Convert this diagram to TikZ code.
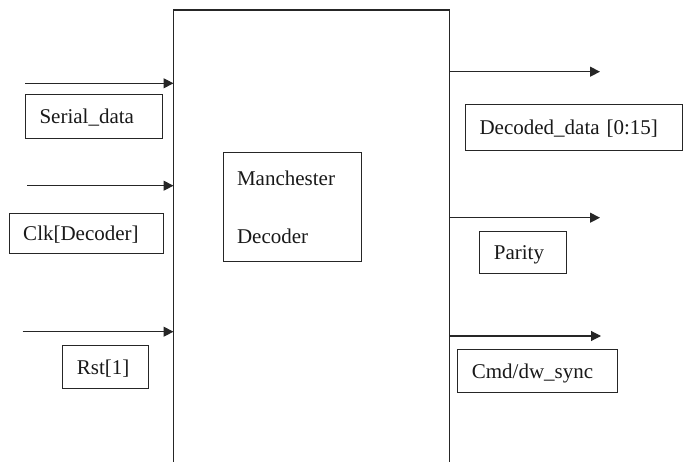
\documentclass[tikz,border=0pt]{standalone}
\usepackage{fontspec}
\setmainfont{Liberation Serif}
\usetikzlibrary{arrows.meta}
\begin{document}
\begin{tikzpicture}[x=1pt,y=-1pt,
  ln/.style={line width=1.1pt,draw=black!85},
  arr/.style={ln,-{Triangle[length=10pt,width=10pt]}},
  lbl/.style={ln,rectangle,anchor=north west,inner xsep=14pt,inner ysep=0pt,align=left,
    font=\fontsize{21}{25}\selectfont,text height=14pt,text depth=0pt,text=black!90},
]
\useasboundingbox (0,0) rectangle (688,462);
\fill[white] (0,0) rectangle (688,462);
% main block (open at the bottom)
\node[minimum width=275.5pt,minimum height=452pt,inner sep=0pt,anchor=north west] (blk) at (173.5,10) {};
\draw[ln] (blk.south west) -- (blk.north west) -- (blk.north east) -- (blk.south east);
% inner decoder box
\node[ln,rectangle,anchor=north west,minimum width=137.4pt,minimum height=108.4pt,inner xsep=13pt,
  align=left,text width=111pt,font=\fontsize{21}{25}\selectfont,text=black!90] (dec) at (223.3,152.3)
  {Manchester\\[32.6pt]Decoder};
% input labels
\node[lbl,minimum width=137pt,minimum height=43.4pt,text width=109pt] (sd) at (25,94.3) {Serial\_data};
\node[lbl,minimum width=154.6pt,minimum height=39.4pt,text width=126.6pt] (clk) at (8.7,213.3) {Clk[Decoder]};
\node[lbl,minimum width=85.7pt,minimum height=43pt,text width=57.7pt] (rst) at (62.3,345.3) {Rst[1]};
% output labels
\node[lbl,minimum width=217.3pt,minimum height=46pt,text width=189.3pt] (dd) at (465,104) {Decoded\_data [0:15]};
\node[lbl,minimum width=86.7pt,minimum height=42.6pt,text width=58.7pt] (par) at (479.3,230.7) {Parity};
\node[lbl,minimum width=160pt,minimum height=43pt,text width=132pt] (cmd) at (457.3,349) {Cmd/dw\_sync};
% input arrows
\coordinate (i1) at (25,83.3);
\coordinate (i2) at (27,185.7);
\coordinate (i3) at (22.7,331.7);
\draw[arr] (i1) -- (i1 -| blk.west);
\draw[arr] (i2) -- (i2 -| blk.west);
\draw[arr] (i3) -- (i3 -| blk.west);
% output arrows
\coordinate (o1) at (600,71.7);
\coordinate (o2) at (600,217.7);
\coordinate (o3) at (601,336);
\draw[arr] (o1 -| blk.east) -- (o1);
\draw[arr] (o2 -| blk.east) -- (o2);
\draw[arr] (o3 -| blk.east) -- (o3);
\end{tikzpicture}
\end{document}
